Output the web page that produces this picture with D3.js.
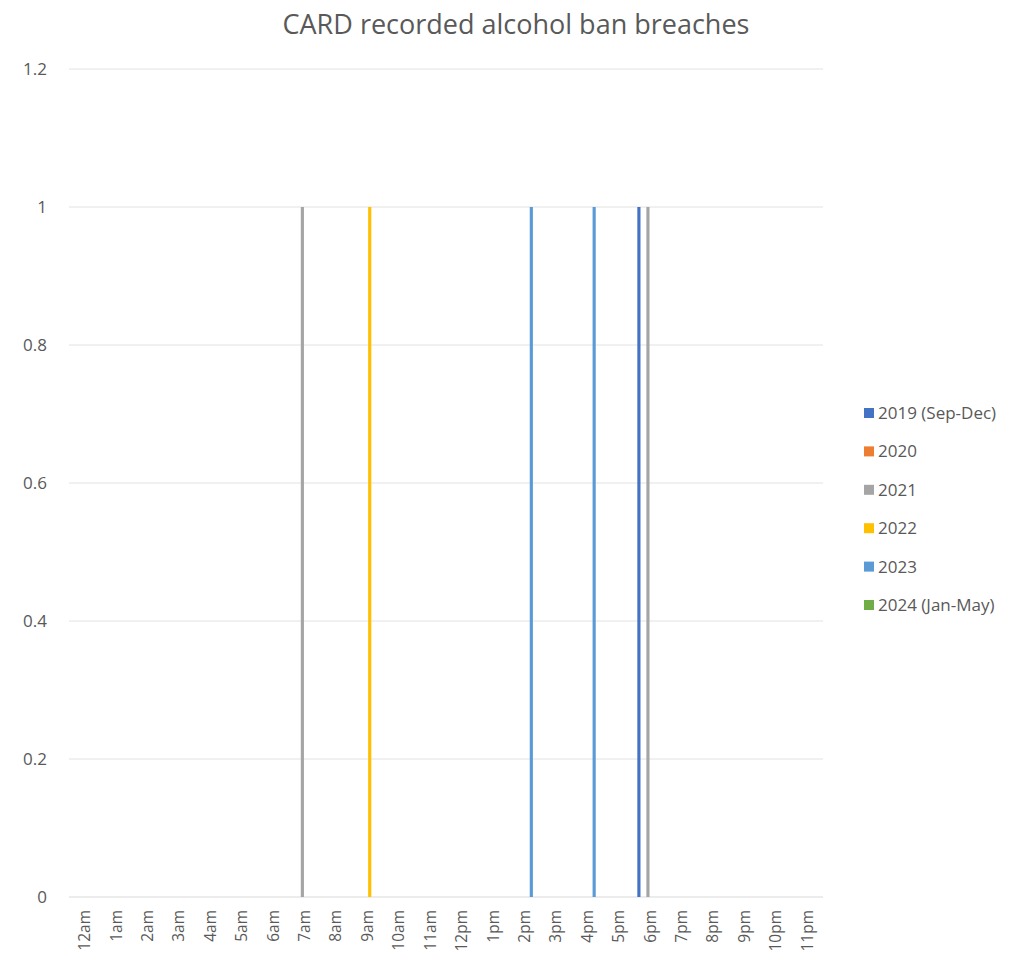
<!DOCTYPE html>
<html><head><meta charset="utf-8">
<script src="https://cdn.jsdelivr.net/npm/d3@7"></script>
<style>body{margin:0;background:#fff;} text{font-family:"Open Sans", Lato, sans-serif;}</style>
</head><body>
<svg id="c" width="1022" height="969"></svg>
<script>
const hours = ["12am","1am","2am","3am","4am","5am","6am","7am","8am","9am","10am","11am","12pm","1pm","2pm","3pm","4pm","5pm","6pm","7pm","8pm","9pm","10pm","11pm"];
const seriesNames = ["2019 (Sep-Dec)","2020","2021","2022","2023","2024 (Jan-May)"];
const seriesColors = ["#4472C4","#ED7D31","#A5A5A5","#FFC000","#5B9BD5","#70AD47"];
const v2019 = [0,0,0,0,0,0,0,0,0,0,0,0,0,0,0,0,0,0,1,0,0,0,0,0];
const v2020 = [0,0,0,0,0,0,0,0,0,0,0,0,0,0,0,0,0,0,0,0,0,0,0,0];
const v2021 = [0,0,0,0,0,0,0,1,0,0,0,0,0,0,0,0,0,0,1,0,0,0,0,0];
const v2022 = [0,0,0,0,0,0,0,0,0,1,0,0,0,0,0,0,0,0,0,0,0,0,0,0];
const v2023 = [0,0,0,0,0,0,0,0,0,0,0,0,0,0,1,0,1,0,0,0,0,0,0,0];
const v2024 = [0,0,0,0,0,0,0,0,0,0,0,0,0,0,0,0,0,0,0,0,0,0,0,0];
const yTicks = [0,0.2,0.4,0.6,0.8,1,1.2];
const title = "CARD recorded alcohol ban breaches";

const series = [v2019,v2020,v2021,v2022,v2023,v2024];
const svg = d3.select("#c");
const L=69, R=823, T=69, B=897;
const x = d3.scaleBand().domain(hours).range([L,R]).paddingInner(0.18).paddingOuter(0.09);
const xs = d3.scaleBand().domain(d3.range(6)).range([0,x.bandwidth()]).paddingInner(0.3);
const y = d3.scaleLinear().domain([0,1.2]).range([B,T]);

svg.append("text").attr("x",516).attr("y",34).attr("text-anchor","middle")
  .attr("font-size",27).attr("fill","#595959").text(title);

const gy = svg.append("g");
gy.selectAll("line").data(yTicks).join("line")
  .attr("x1",L).attr("x2",R).attr("y1",d=>y(d)).attr("y2",d=>y(d))
  .attr("stroke",d=>d===0?"#d9d9d9":"#e2e2e2").attr("stroke-width",1);
gy.selectAll("text").data(yTicks).join("text")
  .attr("x",47).attr("y",d=>y(d)).attr("dy","0.35em").attr("text-anchor","end")
  .attr("font-size",17).attr("fill","#595959").text(d=>d3.format("~g")(d));

series.forEach((vals,k)=>{
  svg.append("g").selectAll("rect").data(vals.map((v,i)=>({v,h:hours[i]})).filter(d=>d.v>0)).join("rect")
    .attr("x",d=>x(d.h)+xs(k)).attr("width",xs.bandwidth())
    .attr("y",d=>y(d.v)).attr("height",d=>y(0)-y(d.v))
    .attr("fill",seriesColors[k]);
});

svg.append("g").selectAll("text").data(hours).join("text")
  .attr("transform",d=>`translate(${x(d)+x.bandwidth()/2},910) rotate(-90)`)
  .attr("text-anchor","end").attr("dy","0.35em")
  .attr("font-size",15.5).attr("fill","#595959").text(d=>d);

const lg = svg.append("g");
seriesNames.forEach((n,k)=>{
  const yy = 413 + k*38.4;
  lg.append("rect").attr("x",864).attr("y",yy-5).attr("width",10).attr("height",10).attr("fill",seriesColors[k]);
  lg.append("text").attr("x",878).attr("y",yy).attr("dy","0.35em").attr("font-size",17).attr("fill","#595959").text(n);
});
</script>
</body></html>
